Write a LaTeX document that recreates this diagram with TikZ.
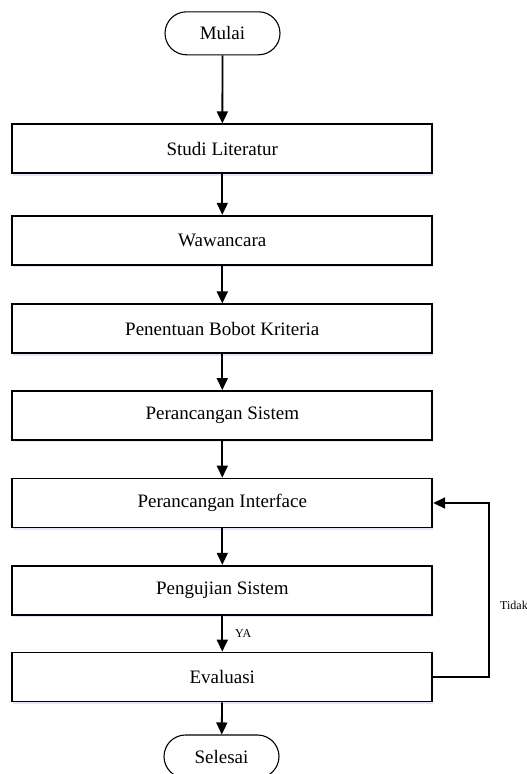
\documentclass[tikz,border=0pt]{standalone}
\usepackage{fontspec}
\setmainfont{Liberation Serif}
\usetikzlibrary{arrows.meta,shapes.misc,shadows}

\tikzset{
  stepbox/.style={draw=black, line width=1.8pt, fill=white,
    minimum width=420pt, minimum height=49pt, inner sep=0pt,
    font=\fontsize{19}{22}\selectfont,
    drop shadow={shadow xshift=0.6pt, shadow yshift=-2.4pt,
      fill=blue!30!white, opacity=0.35}},
  terminal/.style={draw=black, line width=1.1pt, fill=white, rounded rectangle,
    minimum width=115pt, minimum height=43pt, inner sep=0pt,
    font=\fontsize{19}{22}\selectfont},
  flow/.style={line width=1.8pt, -{Triangle[length=12pt,width=11pt]}},
  small/.style={font=\fontsize{12}{14}\selectfont, inner sep=0pt}
}

\begin{document}
\begin{tikzpicture}[x=1pt,y=-1pt]
  \path[use as bounding box, clip] (0,0) rectangle (527,774);

  \node[terminal] (mulai) at (222.5,33.3) {Mulai};
  \node[stepbox] (studi) at (222.3,148.8) {Studi Literatur};
  \node[stepbox] (wawan) at (222.3,240.2) {Wawancara};
  \node[stepbox] (bobot) at (222.3,328.8) {Penentuan Bobot Kriteria};
  \node[stepbox] (sistem) at (222.3,415.5) {Perancangan Sistem};
  \node[stepbox] (inter) at (222.3,503) {Perancangan Interface};
  \node[stepbox] (uji) at (222.3,590.2) {Pengujian Sistem};
  \node[stepbox] (eval) at (222.3,677) {Evaluasi};
  \node[terminal] (selesai) at (221.5,756.5) {Selesai};

  \draw[flow] (mulai) -- (studi);
  \draw[flow] (studi) -- (wawan);
  \draw[flow] (wawan) -- (bobot);
  \draw[flow] (bobot) -- (sistem);
  \draw[flow] (sistem) -- (inter);
  \draw[flow] (inter) -- (uji);
  \draw[flow] (uji) -- node[small, anchor=west, xshift=12pt] {YA} (eval);
  \draw[flow] (eval) -- (selesai);

  % loop back when the evaluation fails
  \coordinate (back) at (489.3,677);
  \draw[flow] (eval.east) -- (back) |- (inter.east);
  \node[small, anchor=west] (tidak) at (500,605) {Tidak};
\end{tikzpicture}
\end{document}
